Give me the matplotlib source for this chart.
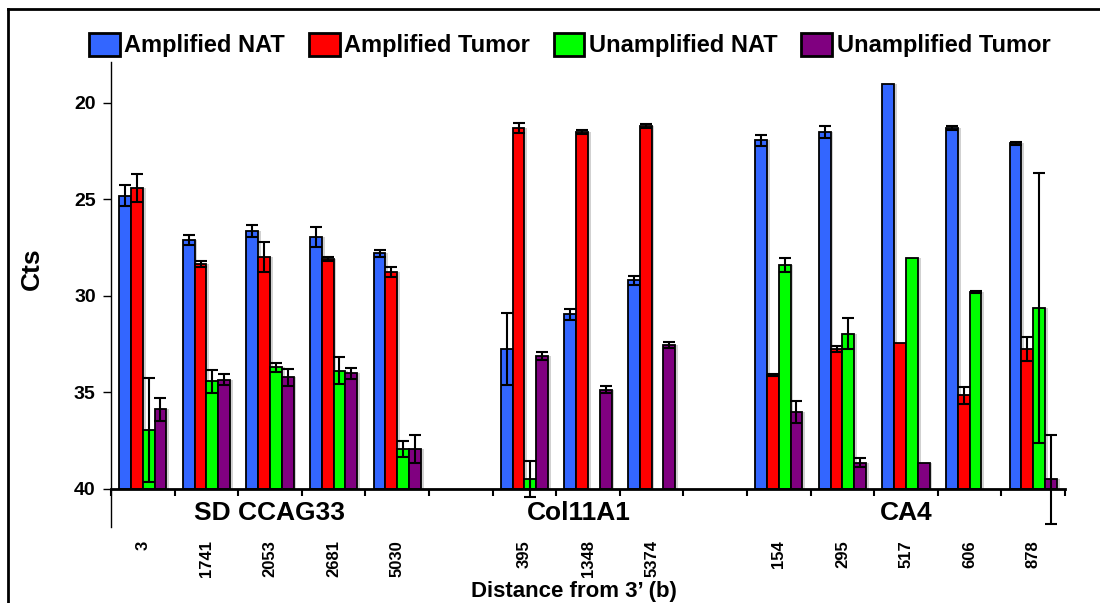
import numpy as np
import matplotlib.pyplot as plt
import matplotlib.patheffects as pe
from matplotlib.lines import Line2D

plt.rcParams['font.family'] = ['Liberation Sans', 'DejaVu Sans']

# Categories (blank = gap between genes)
distances = ['3', '1741', '2053', '2681', '5030', '',
             '395', '1348', '5374', '',
             '154', '295', '517', '606', '878']
genes = ['SD CCAG33', 'Col11A1', 'CA4']
gene_pos = [2, 6.85, 12]

series = ['Amplified NAT', 'Amplified Tumor', 'Unamplified NAT', 'Unamplified Tumor']
colors = ['#3366ff', '#ff0000', '#00ff00', '#800080']

nan = np.nan
amp_nat = [24.8, 27.1, 26.65, 26.95, 27.8, nan, 32.75, 30.95, 29.2, nan, 21.95, 21.5, 19.05, 21.3, 22.1]
amp_nat_err = [0.55, 0.26, 0.31, 0.5, 0.17, nan, 1.87, 0.28, 0.22, nan, 0.3, 0.31, nan, 0.12, 0.06]
amp_tum = [24.4, 28.35, 28.0, 28.1, 28.75, nan, 21.3, 21.52, 21.18, nan, 34.12, 32.75, 32.45, 35.15, 32.75]
amp_tum_err = [0.72, 0.17, 0.77, 0.1, 0.26, nan, 0.26, 0.1, 0.1, nan, 0.05, 0.17, nan, 0.45, 0.62]
unamp_nat = [36.95, 34.43, 33.7, 33.88, 37.92, nan, 39.48, nan, nan, nan, 28.42, 31.96, 28.06, 29.82, 30.63]
unamp_nat_err = [2.7, 0.6, 0.24, 0.69, 0.43, nan, 0.93, nan, nan, nan, 0.36, 0.81, nan, 0.05, 7.0]
unamp_tum = [35.87, 34.34, 34.22, 34.0, 37.92, nan, 33.1, 34.86, 32.56, nan, 35.99, 38.63, 38.63, nan, 39.49]
unamp_tum_err = [0.6, 0.3, 0.45, 0.29, 0.72, nan, 0.22, 0.17, 0.15, nan, 0.57, 0.23, nan, nan, 2.3]

values = [amp_nat, amp_tum, unamp_nat, unamp_tum]
errors = [amp_nat_err, amp_tum_err, unamp_nat_err, unamp_tum_err]

fig = plt.figure(figsize=(11, 6.03), dpi=100)
ax = fig.add_axes([0.1009, 0.1891, 0.8673, 0.7076])

x = np.arange(len(distances))
w = 0.185
shadow = [pe.SimplePatchShadow(offset=(2, 0), shadow_rgbFace='0.82', alpha=1), pe.Normal()]
handles = []
for i, (vals, errs) in enumerate(zip(values, errors)):
    vals = np.array(vals)
    errs = np.array(errs)
    xs = x + (i - 1.5) * w
    b = ax.bar(xs, vals - 40, bottom=40, width=w, color=colors[i],
               edgecolor='black', linewidth=1.3, label=series[i], zorder=2)
    for p in b:
        p.set_path_effects(shadow)
    handles.append(b)
    ok = np.isfinite(vals) & np.isfinite(errs)
    ax.errorbar(xs[ok], vals[ok], yerr=errs[ok], fmt='none', ecolor='black',
                elinewidth=1.5, capsize=4, capthick=1.5, zorder=3, clip_on=False)

ax.set_xlim(-0.5, len(distances) - 0.5)
ax.set_ylim(40, 17.9)
ax.set_yticks([20, 25, 30, 35, 40])
ax.tick_params(axis='y', direction='out', length=6, width=1, pad=5, labelsize=14)
for t in ax.get_yticklabels():
    t.set_fontweight('bold')

ax.set_xticks(np.arange(-0.5, len(distances)), labels=[])
ax.set_xticks(x, labels=distances, minor=True)
ax.tick_params(axis='x', which='major', direction='out', length=5, width=1.5)
ax.tick_params(axis='x', which='minor', length=0, pad=37, labelsize=12, labelrotation=90)
for t in ax.get_xticklabels(minor=True):
    t.set_fontweight('bold')

for s in ['top', 'right']:
    ax.spines[s].set_visible(False)
ax.spines['bottom'].set_linewidth(2)
ax.spines['left'].set_linewidth(1)
ax.plot([0, 0], [0, -0.089], transform=ax.transAxes, color='black', lw=1, clip_on=False)

for g, gx in zip(genes, gene_pos):
    ax.text(gx, -0.057, g, transform=ax.get_xaxis_transform(), ha='center', va='center',
            fontsize=19, fontweight='bold')

fig.text(32 / 1100, 1 - 269 / 603, 'Cts', rotation=90, ha='center', va='center',
         fontsize=19, fontweight='bold')
fig.text(574 / 1100, 1 - 592 / 603, 'Distance from 3\u2019 (b)', ha='center', va='center',
         fontsize=16, fontweight='bold')

leg = fig.legend(handles=handles, labels=series, loc='center', bbox_to_anchor=(0.518, 0.925),
                 ncol=4, frameon=False, prop={'size': 17, 'weight': 'bold'},
                 handlelength=1.3, handleheight=1.1, handletextpad=0.2, columnspacing=1.0)
for h in leg.legend_handles:
    h.set_linewidth(2)
    h.set_path_effects([])

# outer frame (top and left edges visible)
fig.add_artist(Line2D([8 / 1100, 8 / 1100], [0, 1 - 9 / 603], color='black', lw=2))
fig.add_artist(Line2D([8 / 1100, 1], [1 - 9 / 603, 1 - 9 / 603], color='black', lw=2))

fig.savefig('out.png', dpi=100)
